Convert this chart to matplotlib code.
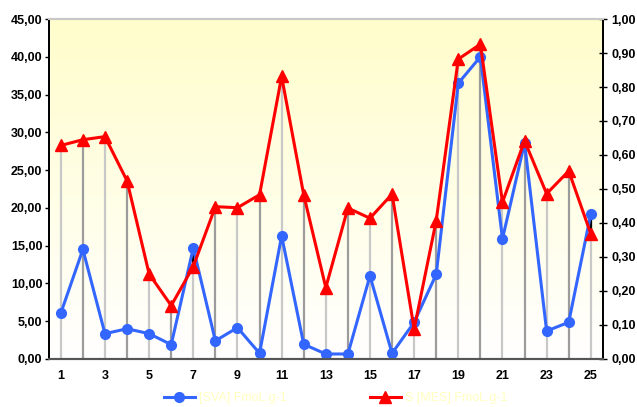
import numpy as np
import matplotlib
matplotlib.use("Agg")
import matplotlib.pyplot as plt
from matplotlib.ticker import FuncFormatter, MultipleLocator
from matplotlib.colors import LinearSegmentedColormap

categories = list(range(1, 26))
sva = [6.05, 14.5, 3.35, 4.0, 3.35, 1.9, 14.7, 2.4, 4.15, 0.75, 16.3, 1.95, 0.66, 0.66,
       11.0, 0.75, 4.86, 11.2, 36.5, 40.0, 15.9, 28.6, 3.7, 4.86, 19.2]
mes = [0.628, 0.645, 0.654, 0.524, 0.250, 0.157, 0.272, 0.448, 0.445, 0.483, 0.831, 0.483,
       0.210, 0.444, 0.414, 0.485, 0.088, 0.407, 0.882, 0.926, 0.461, 0.642, 0.486, 0.553, 0.368]
label_sva = "[SVA] FmoL.g-1"
label_mes = "S [MES] FmoL.g-1"

plt.rcParams['font.family'] = ['Liberation Sans', 'DejaVu Sans']

fig = plt.figure(figsize=(6.37, 4.07), dpi=100)
ax = fig.add_axes([0.0774, 0.118, 0.9462 - 0.0774, 0.9533 - 0.118])
ax2 = ax.twinx()

x = np.array(categories)
sva_a = np.array(sva)
mes_a = np.array(mes)
LMAX, RMAX = 45.0, 1.0

# gradient background
grad = np.linspace(0, 1, 256).reshape(-1, 1)
cmap = LinearSegmentedColormap.from_list("bg", ["#FFFFFF", "#FFFDCB"])
ax.imshow(grad, aspect='auto', cmap=cmap, extent=[0, 1, 0, 1], origin='lower',
          transform=ax.transAxes, zorder=0)

ax.set_xlim(0.48, 25.54)
ax.set_ylim(0, LMAX)
ax2.set_ylim(0, RMAX)

# drop lines
mes_left = mes_a * LMAX / RMAX
top = np.maximum(sva_a, mes_left)
for xi, t in zip(x, top):
    col = '#C8C8C8' if xi % 2 == 1 else '#9C9C9C'
    ax.vlines(xi, 0, t, colors=col, linewidth=1.6, zorder=1)
# high-low lines where blue above red
for xi, b, r in zip(x, sva_a, mes_left):
    if b > r:
        ax.vlines(xi, r, b, colors='black', linewidth=1.6, zorder=1.5)

ax.plot(x, sva_a, color='#3366FF', linewidth=2.2, marker='o', markersize=7,
        label=label_sva, zorder=3)
ax2.plot(x, mes_a, color='#FF0000', linewidth=2.2, marker='^', markersize=8,
         label=label_mes, zorder=3)

ax.set_zorder(ax2.get_zorder() - 1)
ax.patch.set_visible(False)
ax2.patch.set_visible(False)
ax.set_xticks(categories[::2])
ax.tick_params(axis='x', length=0, pad=8)
ax.yaxis.set_major_locator(MultipleLocator(5))
ax2.yaxis.set_major_locator(MultipleLocator(0.1))
fmt = FuncFormatter(lambda v, p: f"{v:.2f}".replace('.', ','))
ax.yaxis.set_major_formatter(fmt)
ax2.yaxis.set_major_formatter(fmt)
ax.tick_params(axis='y', length=3, width=1, direction='out', pad=2)
ax2.tick_params(axis='y', length=6, width=1, direction='inout', pad=3)
for a in (ax, ax2):
    for lab in a.get_xticklabels() + a.get_yticklabels():
        lab.set_fontweight('bold')
        lab.set_fontsize(9)

for a in (ax, ax2):
    a.spines['top'].set_color('#C8C8C8')
    a.spines['top'].set_linewidth(1.5)
    a.spines['left'].set_color('black')
    a.spines['left'].set_linewidth(1.3)
    a.spines['right'].set_color('black')
    a.spines['right'].set_linewidth(1.3)
    a.spines['bottom'].set_color('#555555')
    a.spines['bottom'].set_linewidth(1.5)

h1, l1 = ax.get_legend_handles_labels()
h2, l2 = ax2.get_legend_handles_labels()
leg = fig.legend(h1 + h2, l1 + l2, loc='center', bbox_to_anchor=(0.527, 0.022), ncol=2,
                 frameon=False, fontsize=9, columnspacing=6.6, handlelength=2.5,
                 handletextpad=0.35)
for t in leg.get_texts():
    t.set_color('#FFFFC0')

fig.savefig("out.png", dpi=100)
